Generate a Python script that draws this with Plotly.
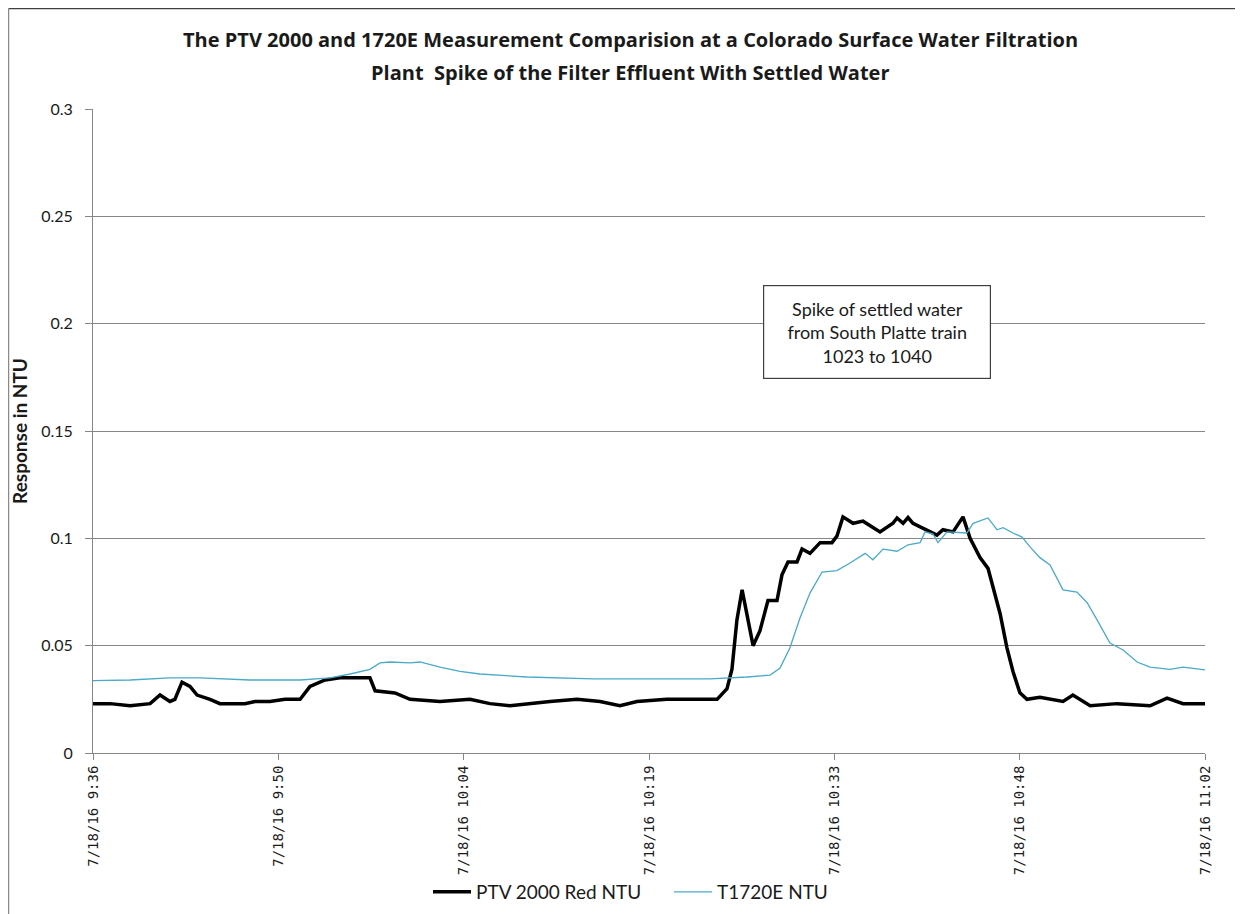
import plotly.graph_objects as go

# ---- data ----
ptv_time = ["2016-07-18 09:36:00","2016-07-18 09:37:19","2016-07-18 09:38:52","2016-07-18 09:40:25",
            "2016-07-18 09:41:11","2016-07-18 09:41:57","2016-07-18 09:42:20","2016-07-18 09:42:53",
            "2016-07-18 09:43:30","2016-07-18 09:44:03","2016-07-18 09:45:03","2016-07-18 09:45:49",
            "2016-07-18 09:47:45","2016-07-18 09:48:32","2016-07-18 09:49:41","2016-07-18 09:50:51",
            "2016-07-18 09:52:01","2016-07-18 09:52:47","2016-07-18 09:53:57","2016-07-18 09:55:06",
            "2016-07-18 09:57:25","2016-07-18 09:57:49","2016-07-18 09:59:21","2016-07-18 10:00:31",
            "2016-07-18 10:02:50","2016-07-18 10:05:09","2016-07-18 10:06:42","2016-07-18 10:08:15",
            "2016-07-18 10:11:21","2016-07-18 10:13:26","2016-07-18 10:15:13","2016-07-18 10:16:45",
            "2016-07-18 10:18:04","2016-07-18 10:20:23","2016-07-18 10:22:57","2016-07-18 10:24:16",
            "2016-07-18 10:25:02","2016-07-18 10:25:25","2016-07-18 10:25:48","2016-07-18 10:26:12",
            "2016-07-18 10:27:03","2016-07-18 10:27:35","2016-07-18 10:28:12","2016-07-18 10:28:54",
            "2016-07-18 10:29:17","2016-07-18 10:29:45","2016-07-18 10:30:27","2016-07-18 10:30:50",
            "2016-07-18 10:31:27","2016-07-18 10:32:14","2016-07-18 10:33:09","2016-07-18 10:33:32",
            "2016-07-18 10:34:00","2016-07-18 10:34:47","2016-07-18 10:35:33","2016-07-18 10:36:52",
            "2016-07-18 10:37:52","2016-07-18 10:38:11","2016-07-18 10:38:39","2016-07-18 10:39:02",
            "2016-07-18 10:39:25","2016-07-18 10:40:30","2016-07-18 10:41:16","2016-07-18 10:41:44",
            "2016-07-18 10:42:31","2016-07-18 10:43:17","2016-07-18 10:43:50","2016-07-18 10:44:36",
            "2016-07-18 10:45:13","2016-07-18 10:46:09","2016-07-18 10:46:41","2016-07-18 10:47:09",
            "2016-07-18 10:47:41","2016-07-18 10:48:14","2016-07-18 10:49:14","2016-07-18 10:51:01",
            "2016-07-18 10:51:47","2016-07-18 10:53:07","2016-07-18 10:55:12","2016-07-18 10:57:45",
            "2016-07-18 10:59:04","2016-07-18 11:00:18","2016-07-18 11:02:00"]
ptv_ntu = [0.023,0.023,0.022,0.023,
           0.027,0.024,0.025,0.033,
           0.031,0.027,0.025,0.023,
           0.023,0.024,0.024,0.025,
           0.025,0.031,0.034,0.035,
           0.035,0.029,0.028,0.025,
           0.024,0.025,0.023,0.022,
           0.024,0.025,0.024,0.022,
           0.024,0.025,0.025,0.025,
           0.030,0.039,0.062,0.076,
           0.050,0.057,0.071,0.071,
           0.083,0.089,0.089,0.095,
           0.093,0.098,0.098,0.101,
           0.110,0.107,0.108,0.103,
           0.107,0.1095,0.107,0.1097,
           0.107,0.104,0.1015,0.104,
           0.103,0.110,0.100,0.091,
           0.086,0.065,0.049,0.038,
           0.028,0.025,0.026,0.024,
           0.027,0.022,0.023,0.022,
           0.0256,0.023,0.023]

t1720_time = ["2016-07-18 09:36:00","2016-07-18 09:38:52","2016-07-18 09:41:57","2016-07-18 09:44:17",
              "2016-07-18 09:48:08","2016-07-18 09:52:01","2016-07-18 09:54:20","2016-07-18 09:55:53",
              "2016-07-18 09:57:25","2016-07-18 09:58:12","2016-07-18 09:58:58","2016-07-18 10:00:31",
              "2016-07-18 10:01:17","2016-07-18 10:02:50","2016-07-18 10:04:23","2016-07-18 10:05:56",
              "2016-07-18 10:09:34","2016-07-18 10:14:40","2016-07-18 10:19:51","2016-07-18 10:23:43",
              "2016-07-18 10:26:35","2016-07-18 10:28:22","2016-07-18 10:29:08","2016-07-18 10:29:54",
              "2016-07-18 10:30:41","2016-07-18 10:31:27","2016-07-18 10:32:23","2016-07-18 10:33:32",
              "2016-07-18 10:34:33","2016-07-18 10:35:43","2016-07-18 10:36:19","2016-07-18 10:37:06",
              "2016-07-18 10:38:11","2016-07-18 10:39:02","2016-07-18 10:39:58","2016-07-18 10:40:21",
              "2016-07-18 10:40:58","2016-07-18 10:41:21","2016-07-18 10:42:03","2016-07-18 10:43:35",
              "2016-07-18 10:44:04","2016-07-18 10:45:13","2016-07-18 10:45:55","2016-07-18 10:46:23",
              "2016-07-18 10:47:09","2016-07-18 10:47:51","2016-07-18 10:48:28","2016-07-18 10:49:14",
              "2016-07-18 10:50:01","2016-07-18 10:51:01","2016-07-18 10:52:06","2016-07-18 10:52:53",
              "2016-07-18 10:53:39","2016-07-18 10:54:39","2016-07-18 10:55:40","2016-07-18 10:56:45",
              "2016-07-18 10:57:45","2016-07-18 10:59:18","2016-07-18 11:00:18","2016-07-18 11:02:00"]
t1720_ntu = [0.0337,0.0340,0.035,0.035,
             0.034,0.034,0.035,0.0368,
             0.039,0.042,0.0424,0.042,
             0.0424,0.040,0.038,0.0368,
             0.0354,0.0345,0.0345,0.0345,
             0.0354,0.0363,0.0396,0.049,
             0.063,0.0745,0.0843,0.085,
             0.0885,0.093,0.090,0.095,
             0.094,0.097,0.098,0.103,
             0.102,0.098,0.103,0.1025,
             0.107,0.1095,0.104,0.105,
             0.1025,0.1006,0.096,0.091,
             0.0876,0.076,0.075,0.070,
             0.062,0.0512,0.048,0.0424,
             0.040,0.039,0.040,0.0387]

tick_vals = ["2016-07-18 09:36:00","2016-07-18 09:50:20","2016-07-18 10:04:40","2016-07-18 10:19:00",
             "2016-07-18 10:33:20","2016-07-18 10:47:40","2016-07-18 11:02:00"]
tick_text = ["7/18/16 9:36","7/18/16 9:50","7/18/16 10:04","7/18/16 10:19",
             "7/18/16 10:33","7/18/16 10:48","7/18/16 11:02"]
y_ticks = [0, 0.05, 0.1, 0.15, 0.2, 0.25, 0.3]
y_text = ["0", "0.05", "0.1", "0.15", "0.2", "0.25", "0.3"]

title_line1 = "The PTV 2000 and 1720E Measurement Comparision at a Colorado Surface Water Filtration"
title_line2 = "Plant  Spike of the Filter Effluent With Settled Water"
note_text = "Spike of settled water<br>from South Platte train<br>1023 to 1040"
note_pos = ("2016-07-18 10:36:38", 0.196)

W, H = 1235, 906
L, T, PW, PH = 85, 101, 1112, 644      # plot area in figure pixels
def px_x(fx):  # figure pixel -> paper x
    return (fx - L) / PW
def px_y(fy):  # figure pixel -> paper y
    return (T + PH - fy) / PH

fig = go.Figure()
fig.add_trace(go.Scatter(x=ptv_time, y=ptv_ntu, mode="lines", name="PTV 2000 Red NTU",
                         line=dict(color="#000000", width=3.5)))
fig.add_trace(go.Scatter(x=t1720_time, y=t1720_ntu, mode="lines", name="T1720E NTU",
                         line=dict(color="#4aaac8", width=1.3)))

fig.update_layout(
    width=W, height=H,
    margin=dict(l=L, r=W - L - PW, t=T, b=H - T - PH, autoexpand=False),
    paper_bgcolor="white", plot_bgcolor="white",
    showlegend=True,
    legend=dict(orientation="h", x=px_x(420), xanchor="left", y=px_y(884), yanchor="middle",
                bgcolor="rgba(0,0,0,0)",
                font=dict(family="Lato", size=19, color="#1a1a1a"),
                itemwidth=38, entrywidth=188, entrywidthmode="pixels", tracegroupgap=0),
    font=dict(family="Lato", color="#1a1a1a"),
)
fig.update_xaxes(
    type="date", range=["2016-07-18 09:36:00", "2016-07-18 11:02:00"], automargin=False,
    tickmode="array", tickvals=tick_vals, ticktext=tick_text, tickangle=-90,
    tickfont=dict(family="DejaVu Sans Mono", size=14, color="#1a1a1a"),
    showgrid=False, showline=True, linecolor="#868686", linewidth=1,
    ticks="outside", ticklen=6, tickcolor="#868686", zeroline=False,
)
fig.update_yaxes(
    range=[0, 0.3], tickmode="array", tickvals=y_ticks, ticktext=y_text, automargin=False,
    tickfont=dict(family="Lato", size=16, color="#1a1a1a"),
    showgrid=True, gridcolor="#868686", gridwidth=1,
    showline=True, linecolor="#868686", linewidth=1,
    ticks="outside", ticklen=7, tickcolor="#868686", zeroline=False,
    ticklabelstandoff=9,
    title=dict(text="<b>Response in NTU</b>", standoff=13,
               font=dict(family="Lato", size=19, color="#1a1a1a")),
)

# two-line title
for txt, fy in ((title_line1, 32), (title_line2, 64)):
    fig.add_annotation(x=px_x(622), y=px_y(fy), xref="paper", yref="paper", text="<b>" + txt + "</b>",
                       showarrow=False, xanchor="center", yanchor="middle",
                       font=dict(family="Open Sans", size=20, color="#1a1a1a"))

fig.add_annotation(x=note_pos[0], y=note_pos[1], xref="x", yref="y", text=note_text,
                   showarrow=False, align="center", width=204, height=70,
                   font=dict(family="Lato", size=18, color="#1a1a1a"),
                   bgcolor="white", bordercolor="#404040", borderwidth=1.2, borderpad=11)

# outer chart frame (top and left edges; right and bottom fall outside the view)
fig.add_shape(type="line", xref="paper", yref="paper", x0=px_x(0.5), x1=px_x(W),
              y0=px_y(0.5), y1=px_y(0.5), line=dict(color="#404040", width=1.5))
fig.add_shape(type="line", xref="paper", yref="paper", x0=px_x(0.5), x1=px_x(0.5),
              y0=px_y(H), y1=px_y(0.5), line=dict(color="#8a8a8a", width=1.5))

fig.write_html("out.html")
